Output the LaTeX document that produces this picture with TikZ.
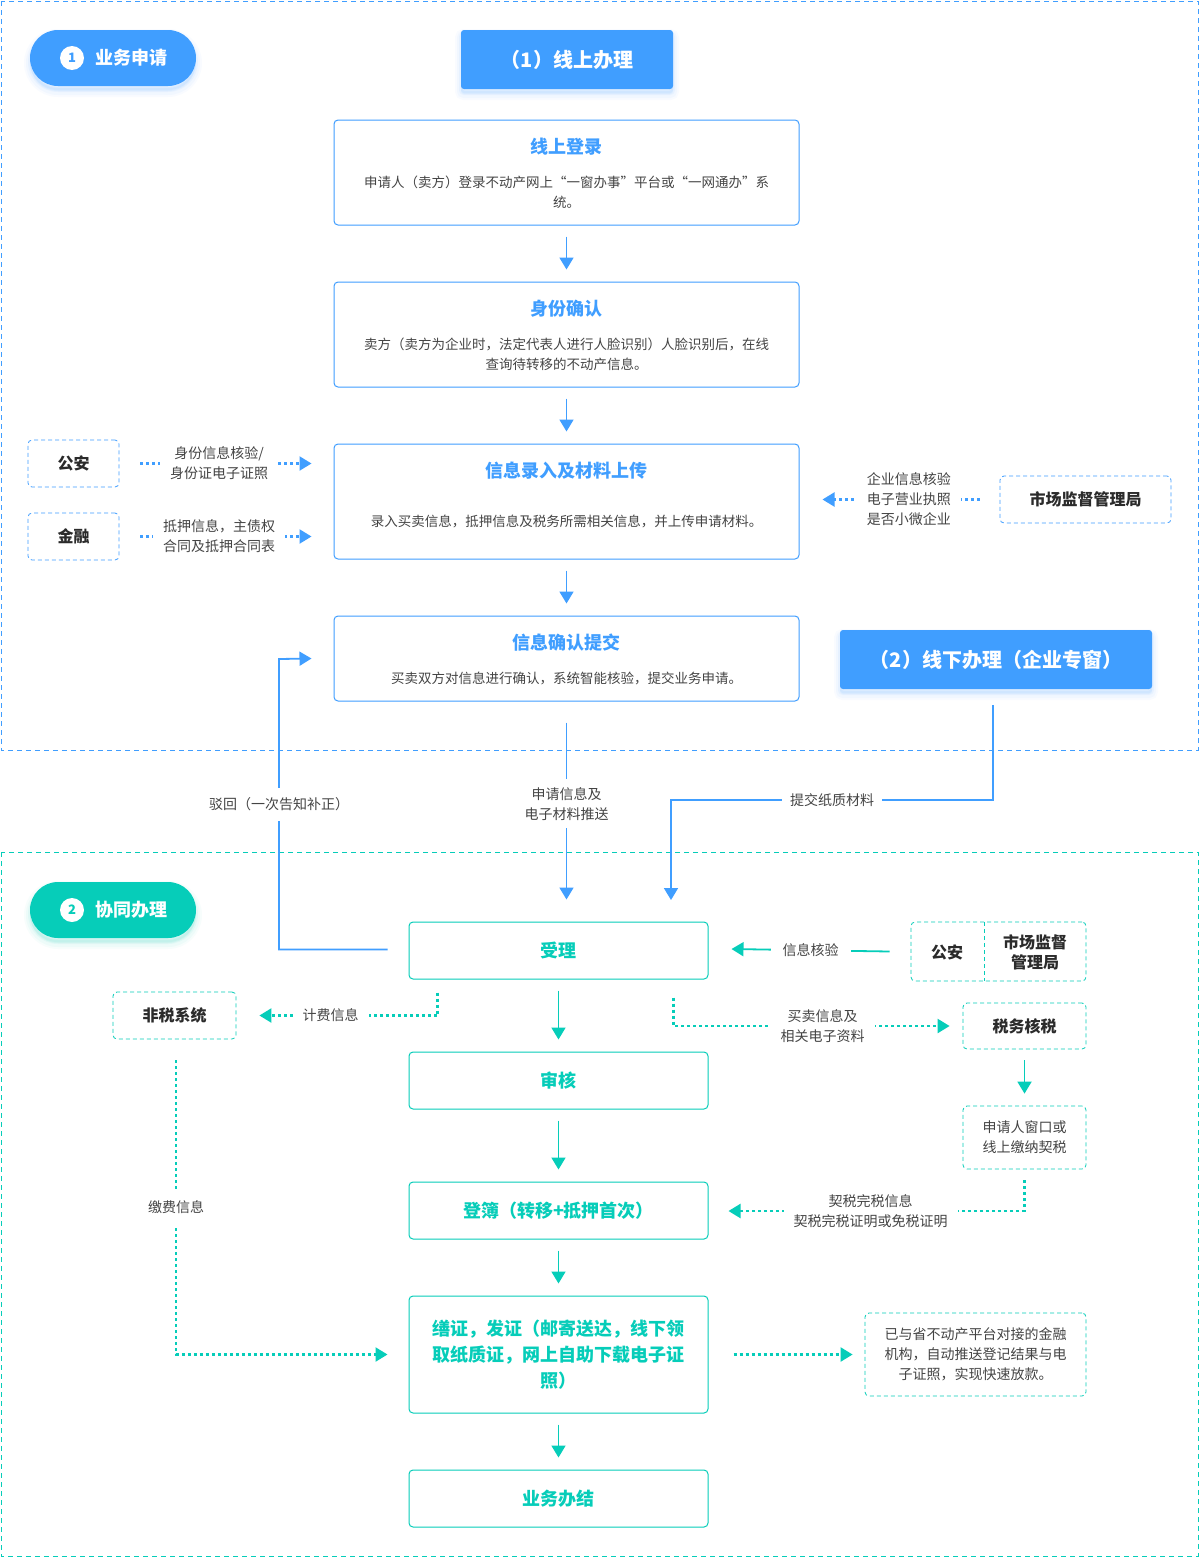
\documentclass[tikz,border=0pt]{standalone}
\usepackage{fontspec}
\setmainfont{Noto Sans CJK SC}
\usetikzlibrary{arrows.meta,calc}
\definecolor{cblue}{HTML}{409EFF}
\definecolor{cteal}{HTML}{06CDB9}
\definecolor{ctext}{HTML}{2B2B2B}
\definecolor{cdesc}{HTML}{444444}
\tikzset{
  bluebox/.style={draw=cblue, line width=1pt, rounded corners=4pt, fill=white, minimum width=465pt, inner sep=0pt},
  tealbox/.style={draw=cteal, line width=1pt, rounded corners=4pt, fill=white, minimum width=299pt, minimum height=57pt, inner sep=0pt, text=cteal, font=\fontsize{18}{26}\selectfont\bfseries, align=center},
  bdash/.style={draw=cblue, dash pattern=on 4pt off 3pt, line width=0.8pt, rounded corners=4pt, inner sep=0pt, text=ctext, font=\fontsize{16}{20}\selectfont\bfseries, align=center},
  tdash/.style={draw=cteal, dash pattern=on 4pt off 3pt, line width=0.8pt, rounded corners=4pt, inner sep=0pt, text=ctext, font=\fontsize{16}{20}\selectfont\bfseries, align=center},
  btitle/.style={text=cblue, font=\fontsize{18}{22}\selectfont\bfseries, inner sep=0pt},
  desc/.style={text=cdesc, font=\fontsize{13.5}{20}\selectfont, align=center, inner sep=0pt},
  lbl/.style={text=cdesc, font=\fontsize{14}{20}\selectfont, align=center, fill=white, inner xsep=10pt, inner ysep=4pt},
  tip/.style={-{Triangle[width=14pt,length=12pt]}},
  barr/.style={draw=cblue, line width=1.8pt, tip},
  tarr/.style={draw=cteal, line width=1.8pt, tip},
  bdot/.style={draw=cblue, line width=2.2pt, dash pattern=on 3pt off 3pt, tip},
  tdot/.style={draw=cteal, line width=2.2pt, dash pattern=on 3pt off 3pt, tip},
  softshadow/.style={
     preaction={draw=#1, fill=#1, line width=12pt, opacity=0.03, transform canvas={yshift=-5pt}},
     preaction={draw=#1, fill=#1, line width=8pt, opacity=0.04, transform canvas={yshift=-5pt}},
     preaction={draw=#1, fill=#1, line width=4pt, opacity=0.06, transform canvas={yshift=-4pt}}},
  pill/.style={fill=#1, rounded corners=28pt, minimum width=166pt, minimum height=56pt, inner sep=0pt, softshadow=#1},
  headbox/.style={fill=cblue, rounded corners=3pt, inner sep=0pt, text=white, font=\fontsize{20}{24}\selectfont\bfseries, softshadow=cblue},
  pilltext/.style={text=white, font=\fontsize{18}{22}\selectfont\bfseries, inner sep=0pt},
  numcirc/.style={circle, fill=white, minimum size=24pt, inner sep=0pt, text=#1, font=\fontsize{13}{13}\selectfont\bfseries},
}
\begin{document}
\begin{tikzpicture}[x=1pt,y=-1pt]
\useasboundingbox (0,0) rectangle (1200,1558);
\fill[white] (0,0) rectangle (1200,1558);

% section frames
\draw[cblue, line width=1pt, dash pattern=on 5pt off 4pt] (1,1) rectangle (1198,750);
\draw[cteal, line width=1pt, dash pattern=on 5pt off 4pt] (1,852) rectangle (1198,1556);

% ===== section 1 =====
\node[pill=cblue] (pill1) at (113,58) {};
\node[numcirc=cblue] (num1) at (72,58) {1};
\node[pilltext, anchor=west] (pill1t) at (95,58) {业务申请};

\node[headbox, minimum width=212pt, minimum height=59pt] (online) at (567,59.5) {（1）线上办理};

\node[bluebox, minimum height=105pt] (login) at (566.5,172.5) {};
\node[btitle] (logint) at (566.5,147) {线上登录};
\node[desc] (logind) at (566.5,192) {申请人（卖方）登录不动产网上“一窗办事”平台或“一网通办”系\\统。};

\node[bluebox, minimum height=105pt] (ident) at (566.5,334.5) {};
\node[btitle] (identt) at (566.5,309) {身份确认};
\node[desc] (identd) at (566.5,354) {卖方（卖方为企业时，法定代表人进行人脸识别）人脸识别后，在线\\查询待转移的不动产信息。};

\node[bluebox, minimum height=115pt] (input) at (566.5,501.5) {};
\node[btitle] (inputt) at (566.5,471) {信息录入及材料上传};
\node[desc] (inputd) at (566.5,521) {录入买卖信息，抵押信息及税务所需相关信息，并上传申请材料。};

\node[bluebox, minimum height=85pt] (submit) at (566.5,658.5) {};
\node[btitle] (submitt) at (566.5,643) {信息确认提交};
\node[desc] (submitd) at (566.5,678) {买卖双方对信息进行确认，系统智能核验，提交业务申请。};

\node[headbox, minimum width=312pt, minimum height=59pt] (offline) at (996,659.5) {（2）线下办理（企业专窗）};

\draw[barr] ([yshift=-11pt]login.south) -- ([yshift=12pt]ident.north);
\draw[barr] ([yshift=-11pt]ident.south) -- ([yshift=12pt]input.north);
\draw[barr] ([yshift=-11pt]input.south) -- ([yshift=12pt]submit.north);

\node[bdash, minimum width=91pt, minimum height=47pt] (gongan) at (73.5,463.5) {公安};
\node[bdash, minimum width=91pt, minimum height=47pt] (jinrong) at (73.5,536.5) {金融};
\node[bdash, minimum width=171pt, minimum height=47pt] (scjg) at (1085.5,499.5) {市场监督管理局};

\draw[bdot] ([xshift=21pt]gongan.east) -- node[lbl, pos=0.46]{身份信息核验/\\身份证电子证照} ([xshift=-22pt]gongan.east -| input.west);
\draw[bdot] ([xshift=21pt]jinrong.east) -- node[lbl, pos=0.46]{抵押信息，主债权\\合同及抵押合同表} ([xshift=-22pt]jinrong.east -| input.west);
\draw[bdot] ([xshift=-20pt]scjg.west) -- node[lbl, pos=0.45, align=left]{企业信息核验\\电子营业执照\\是否小微企业} ([xshift=23pt]scjg.west -| input.east);

% ===== section 2 =====
\node[pill=cteal] (pill2) at (113,910) {};
\node[numcirc=cteal] (num2) at (72,910) {2};
\node[pilltext, anchor=west] (pill2t) at (95,910) {协同办理};

\node[tealbox] (accept) at (558.5,950.5) {受理};
\node[tealbox] (review) at (558.5,1080.5) {审核};
\node[tealbox] (register) at (558.5,1210.5) {登簿（转移+抵押首次）};
\node[tealbox, minimum height=117pt] (issue) at (558.5,1354.5) {缮证，发证（邮寄送达，线下领\\取纸质证，网上自助下载电子证\\照）};
\node[tealbox] (done) at (558.5,1498.5) {业务办结};

\draw[tarr] ([yshift=-11pt]accept.south) -- ([yshift=12pt]review.north);
\draw[tarr] ([yshift=-11pt]review.south) -- ([yshift=12pt]register.north);
\draw[tarr] ([yshift=-11pt]register.south) -- ([yshift=12pt]issue.north);
\draw[tarr] ([yshift=-11pt]issue.south) -- ([yshift=12pt]done.north);

% connectors between sections
\coordinate (pushend) at ($(submit.south |- accept.north)+(0,-22)$);
\draw[barr] ([yshift=-21pt]submit.south) -- node[lbl, pos=0.46, inner ysep=8pt]{申请信息及\\电子材料推送} (pushend);

\coordinate (paperturn) at (671,800);
\coordinate (paperend) at (671,900);
\draw[barr] ([xshift=-3pt,yshift=-16pt]offline.south) |- node[lbl, pos=0.75, inner xsep=8pt]{提交纸质材料} (paperturn) -- (paperend);

\coordinate (rejturn) at (279,659);
\draw[barr] ([xshift=-21pt,yshift=1pt]accept.west) -| node[lbl, pos=0.75, inner ysep=10pt, inner xsep=2pt]{驳回（一次告知补正）} (rejturn) -- ([xshift=-22pt]submit.west);

% right side of section 2
\node[tdash, minimum width=175pt, minimum height=59pt] (ext) at (998.5,951.5) {};
\coordinate (divtop) at (984,922);
\coordinate (divbot) at (984,981);
\draw[cteal, line width=0.8pt, dash pattern=on 4pt off 3pt] (divtop) -- (divbot);
\node[text=ctext, font=\fontsize{16}{20}\selectfont\bfseries, inner sep=0pt] (extga) at (947,952) {公安};
\node[text=ctext, font=\fontsize{16}{20}\selectfont\bfseries, align=center, inner sep=0pt] (extsc) at (1035,952) {市场监督\\管理局};

\draw[tarr] ([xshift=-21pt]ext.west) -- node[lbl, pos=0.5, inner xsep=12pt]{信息核验} ([xshift=23pt,yshift=1.5pt]accept.east);

\node[tdash, minimum width=123pt, minimum height=47pt] (nontax) at (174.5,1015.5) {非税系统};
\draw[tdot] ([xshift=29pt,yshift=-13pt]accept.south west) |- node[lbl, pos=0.8]{计费信息} ([xshift=23pt]nontax.east);

\node[tdash, minimum width=123pt, minimum height=46pt] (taxcheck) at (1024.5,1026) {税务核税};
\node[tdash, minimum width=123pt, minimum height=63pt, font=\fontsize{14}{20}\selectfont, text=cdesc] (pay) at (1024.5,1137.5) {申请人窗口或\\线上缴纳契税};
\draw[tarr] ([yshift=-11pt]taxcheck.south) -- ([yshift=12pt]pay.north);

\coordinate (acceptse) at ($(accept.south east)+(-35,18)$);
\draw[tdot] (acceptse) |- node[lbl, pos=0.77]{买卖信息及\\相关电子资料} ([xshift=-13pt]taxcheck.west);

\draw[tdot] ([yshift=-11pt]pay.south) |- node[lbl, pos=0.76]{契税完税信息\\契税完税证明或免税证明} ([xshift=20pt,yshift=-0.5pt]register.east);

\draw[tdot] ([xshift=1.5pt,yshift=-21pt]nontax.south) |- node[lbl, pos=0.25, inner xsep=2pt, inner ysep=12pt]{缴费信息} ([xshift=-21pt]issue.west);

\node[tdash, minimum width=221pt, minimum height=83pt, font=\fontsize{14}{20}\selectfont, text=cdesc, text width=200pt] (fin) at (975.5,1354.5) {已与省不动产平台对接的金融\\机构，自动推送登记结果与电\\子证照，实现快速放款。};
\draw[tdot] ([xshift=25pt]issue.east) -- ([xshift=-12pt]fin.west);
\end{tikzpicture}
\end{document}
